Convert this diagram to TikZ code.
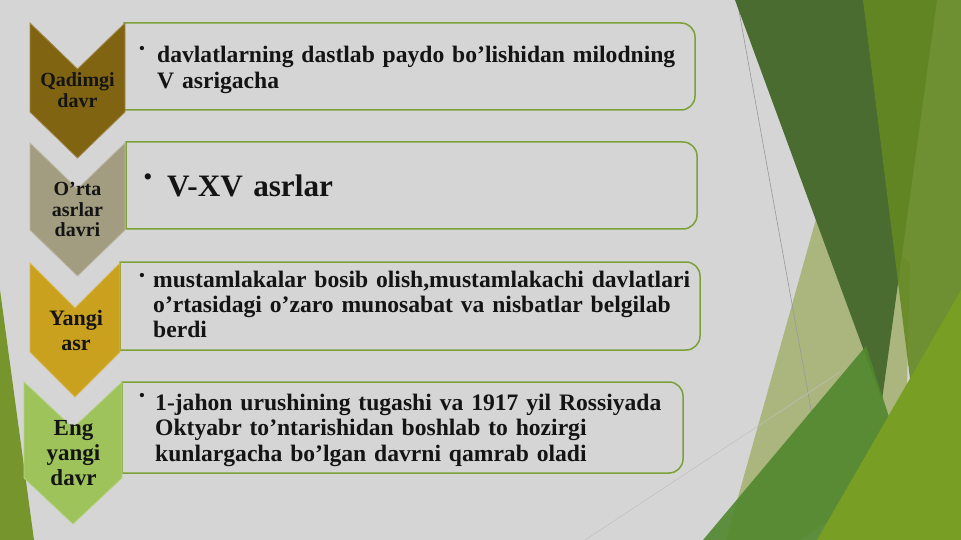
\documentclass[tikz,border=0pt]{standalone}
\usepackage{fontspec}
\setmainfont{Liberation Serif}
\definecolor{bgcol}{RGB}{213,213,213}
\definecolor{leaf}{RGB}{118,150,45}
\definecolor{forest}{RGB}{74,108,48}
\definecolor{olive}{RGB}{101,136,34}
\definecolor{sage}{RGB}{170,182,125}
\definecolor{moss}{RGB}{80,135,45}
\definecolor{lime}{RGB}{120,158,35}
\definecolor{rimgreen}{RGB}{125,160,55}
\definecolor{bronze}{RGB}{128,100,18}
\definecolor{khaki}{RGB}{162,157,128}
\definecolor{gold}{RGB}{201,161,31}
\definecolor{spring}{RGB}{157,195,90}
\definecolor{ink}{RGB}{20,20,20}
\begin{document}
\begin{tikzpicture}[
       x=1pt, y=-1pt,
       chevron/.style={
         fill=#1,
         draw=#1!75!white,
         line width=0.8pt
       },
       box/.style={
         draw=rimgreen,
         fill=bgcol,
         line width=1.5pt
       },
       period/.style={
         text=ink,
         text width=95pt,
         align=center,
         inner sep=0pt,
         anchor=base
       },
       desc/.style={
         text=ink,
         font=\fontsize{23.6}{25.5}\selectfont\bfseries,
         text width=560pt,
         align=left,
         inner sep=0pt,
         anchor=base west
       },
       bul/.style={
         text=ink,
         inner sep=0pt,
         font=\fontsize{18}{18}\selectfont
       }
     ]

       \useasboundingbox (0,0) rectangle (961,540);
       \fill[bgcol] (0,0) rectangle (961,540);

       % right side facets
       \fill[sage] (726,540) -- (820,205) -- (910,262) -- (905,470) -- (800,540) -- cycle;
       \draw[black!40, line width=0.6pt] (737,0) -- (813,420);
       \draw[black!25, line width=0.5pt] (585,540) -- (840,372);
       \fill[forest] (735,0) -- (937,0) -- (882,400) -- cycle;
       \fill[olive, opacity=0.9] (863,0) -- (961,0) -- (961,540) -- (930,540) -- cycle;
       \fill[moss, opacity=0.9] (703,540) -- (866,346) -- (890,420) -- (840,540) -- cycle;
       \fill[lime] (817,540) -- (961,290) -- (961,540) -- cycle;

       % left strip
       \fill[leaf] (0,290) -- (34,540) -- (0,540) -- cycle;

       % boxes
       \draw[box] (124,110) -- (124,23) [rounded corners=14pt] -- (695,23) -- (695,110) [sharp corners] -- (124,110) -- cycle;
       \draw[box] (126,229) -- (126,142) [rounded corners=14pt] -- (697,142) -- (697,229) [sharp corners] -- (126,229) -- cycle;
       \draw[box] (120,350) -- (120,262) [rounded corners=14pt] -- (700,262) -- (700,350) [sharp corners] -- (120,350) -- cycle;
       \draw[box] (122,473) -- (122,382) [rounded corners=14pt] -- (683,382) -- (683,473) [sharp corners] -- (122,473) -- cycle;

       % chevrons
       \fill[chevron=bronze] (30,23) -- (77.5,69) -- (125,23) -- (125,112) -- (77.5,158) -- (30,112) -- cycle;
       \fill[chevron=khaki] (30,143) -- (77.5,189) -- (125,143) -- (125,230) -- (77.5,276) -- (30,230) -- cycle;
       \fill[chevron=gold] (30,263) -- (75,308) -- (120,263) -- (120,352) -- (75,397) -- (30,352) -- cycle;
       \fill[chevron=spring] (24,382) -- (73,428) -- (122,382) -- (122,478) -- (73,524) -- (24,478) -- cycle;

       \node (qadimgi) at (77.5,87) [period, font=\fontsize{20}{20.5}\selectfont\bfseries] {Qadimgi\\davr};
       \node (orta) at (77.5,196) [period, font=\fontsize{20}{20.5}\selectfont\bfseries] {O’rta\\asrlar\\davri};
       \node (yangi) at (76,325) [period, font=\fontsize{22}{25}\selectfont\bfseries] {Yangi\\asr};
       \node (eng) at (73.5,435) [period, font=\fontsize{23}{25}\selectfont\bfseries] {Eng\\yangi\\davr};

       % box texts
       \node (b1) at (142,50) [bul] {•};
       \node (t1) at (157,63) [desc] {davlatlarning dastlab paydo bo’lishidan milodning\\V asrigacha};
       \node (b2) at (148,180) [bul, font=\fontsize{26}{26}\selectfont] {•};
       \node (t2) at (167,197) [desc, font=\fontsize{31.2}{34}\selectfont\bfseries] {V-XV asrlar};
       \node (b3) at (142,277) [bul] {•};
       \node (t3) at (153,287) [desc] {mustamlakalar bosib olish,mustamlakachi davlatlari\\o’rtasidagi o’zaro munosabat va nisbatlar belgilab\\berdi};
       \node (b4) at (142,397) [bul] {•};
       \node (t4) at (155,410) [desc] {1-jahon urushining tugashi va 1917 yil Rossiyada\\Oktyabr to’ntarishidan boshlab to hozirgi\\kunlargacha bo’lgan davrni qamrab oladi};

\end{tikzpicture}
\end{document}
